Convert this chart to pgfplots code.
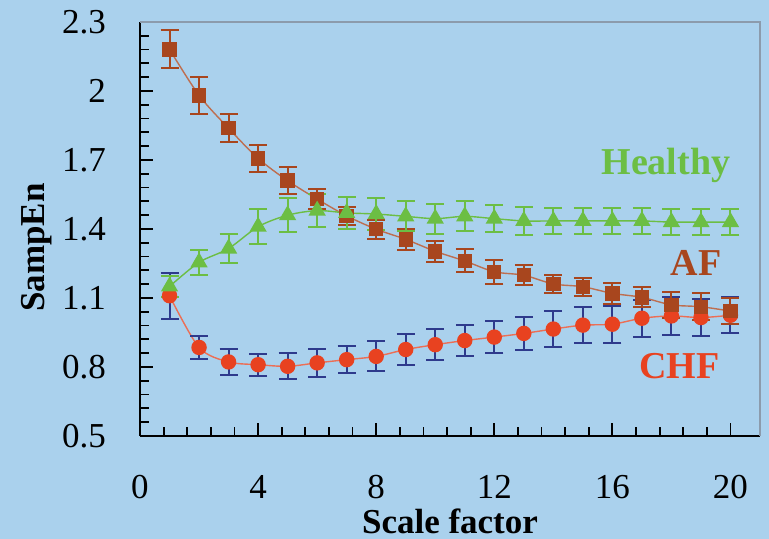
\documentclass[border=0pt]{standalone}
\usepackage{pgfplots}
\pgfplotsset{compat=1.18}
\usepackage{pgfplotstable}
\usepackage{fontspec}
\setmainfont{Liberation Serif}
\definecolor{bgblue}{RGB}{170,209,237}
\definecolor{afc}{RGB}{168,70,30}
\definecolor{afl}{RGB}{190,110,80}
\definecolor{hc}{RGB}{108,190,68}
\definecolor{chfc}{RGB}{232,66,32}
\definecolor{chfl}{RGB}{236,110,85}
\definecolor{navy}{RGB}{46,58,140}
\definecolor{frame}{RGB}{140,155,172}

\pgfplotstableread{
x y e
1 2.181 0.083
2 1.981 0.080
3 1.838 0.060
4 1.707 0.058
5 1.610 0.060
6 1.530 0.044
7 1.457 0.040
8 1.399 0.042
9 1.355 0.045
10 1.303 0.045
11 1.261 0.050
12 1.214 0.052
13 1.199 0.044
14 1.161 0.040
15 1.149 0.040
16 1.120 0.044
17 1.103 0.044
18 1.070 0.055
19 1.062 0.058
20 1.043 0.058
}\afdata

\pgfplotstableread{
x y e
1 1.150 0.045
2 1.255 0.055
3 1.315 0.065
4 1.410 0.075
5 1.460 0.075
6 1.480 0.070
7 1.470 0.070
8 1.465 0.070
9 1.455 0.065
10 1.445 0.065
11 1.455 0.065
12 1.445 0.060
13 1.435 0.060
14 1.435 0.055
15 1.435 0.055
16 1.435 0.055
17 1.435 0.055
18 1.430 0.055
19 1.430 0.055
20 1.430 0.055
}\hdata

\pgfplotstableread{
x y e
1 1.110 0.100
2 0.885 0.050
3 0.822 0.055
4 0.810 0.048
5 0.803 0.057
6 0.818 0.060
7 0.832 0.060
8 0.846 0.065
9 0.876 0.068
10 0.897 0.067
11 0.915 0.068
12 0.930 0.070
13 0.946 0.070
14 0.965 0.078
15 0.982 0.078
16 0.986 0.080
17 1.012 0.080
18 1.022 0.083
19 1.015 0.080
20 1.025 0.078
}\chfdata

\begin{document}
\fontsize{17.5}{20}\selectfont
\begin{tikzpicture}
\fill[bgblue] (-70pt,-51.5pt) rectangle (314.5pt,218pt);
\begin{axis}[
  scale only axis,
  width=310pt, height=207pt,
  xmin=0, xmax=21, ymin=0.5, ymax=2.3,
  axis x line*=bottom, axis y line*=left,
  axis line style={black, line width=1pt},
  xtick={0,4,8,12,16,20},
  ytick={0.5,0.8,1.1,1.4,1.7,2,2.3},
  yticklabels={0.5,0.8,1.1,1.4,1.7,2,2.3},
  minor x tick num=4, minor y tick num=4,
  tick align=inside,
  major tick length=6.5pt, minor tick length=4.5pt,
  every tick/.style={black, line width=0.9pt},
  /pgf/number format/assume math mode=true,
  tick label style={font=\fontsize{17.5}{20}\selectfont},
  xticklabel style={inner sep=0pt, yshift=-19.5pt},
  yticklabel style={xshift=-11pt},
  xlabel={\textbf{Scale factor}},
  ylabel={\textbf{SampEn}},
  label style={font=\fontsize{17.5}{20}\selectfont},
  xlabel style={at={(axis description cs:0.5,0)}, anchor=center, inner sep=0pt, yshift=-42.8pt},
  ylabel style={at={(axis description cs:-0.166,0.455)}, anchor=center},
  clip=false,
]
\draw[frame, line width=0.75pt] (rel axis cs:0,1) -- (rel axis cs:1,1) -- (rel axis cs:1,0);

\addplot[chfl, line width=0.7pt, smooth, mark=*,
  mark options={fill=chfc, draw=chfc, mark size=3.5pt},
  error bars/.cd, y dir=both, y explicit,
  error bar style={navy, line width=1pt},
  error mark options={rotate=90, navy, mark size=4.5pt, line width=1pt}]
  table[x=x, y=y, y error=e]{\chfdata};

\addplot[afl, line width=0.7pt, smooth, mark=square*,
  mark options={fill=afc, draw=afc, mark size=3.25pt},
  error bars/.cd, y dir=both, y explicit,
  error bar style={afc, line width=1pt},
  error mark options={rotate=90, afc, mark size=4.5pt, line width=1pt}]
  table[x=x, y=y, y error=e]{\afdata};

\addplot[hc, line width=0.7pt, smooth, mark=triangle*,
  mark options={fill=hc, draw=hc, mark size=4.3pt},
  error bars/.cd, y dir=both, y explicit,
  error bar style={hc, line width=1pt},
  error mark options={rotate=90, hc, mark size=4.5pt, line width=1pt}]
  table[x=x, y=y, y error=e]{\hdata};

\node[anchor=base, text=hc, font=\fontsize{19}{20}\selectfont\bfseries] at (axis cs:17.81,1.635) {Healthy};
\node[anchor=base, text=afc, font=\fontsize{19}{20}\selectfont\bfseries] at (axis cs:18.83,1.196) {AF};
\node[anchor=base, text=chfc, font=\fontsize{19}{20}\selectfont\bfseries] at (axis cs:18.26,0.751) {CHF};
\end{axis}
\pgfresetboundingbox
\path (-70pt,-51.5pt) rectangle (314.5pt,218pt);
\end{tikzpicture}
\end{document}
